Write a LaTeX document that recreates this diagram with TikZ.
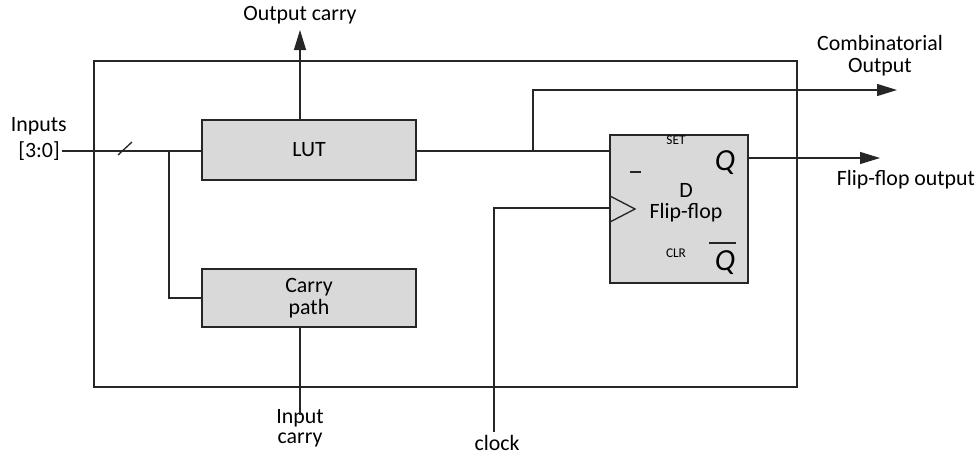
\documentclass[tikz,border=0pt]{standalone}
\usepackage{fontspec}
\setmainfont{Carlito}
\usetikzlibrary{arrows.meta,calc}
\definecolor{boxfill}{HTML}{D9D9D9}
\definecolor{wire}{HTML}{262626}
\tikzset{
  blk/.style={draw=wire, fill=boxfill, line width=1pt, inner sep=0pt},
  wireline/.style={draw=wire, line width=1pt},
  outarrow/.style={wireline, -{Triangle[length=15pt,width=9pt]}},
  lbl/.style={inner sep=0pt, font=\fontsize{16.4}{16.5}\selectfont},
  tiny/.style={inner sep=0pt, font=\fontsize{10}{11}\selectfont},
  bigq/.style={inner sep=0pt, font=\fontsize{23}{24}\selectfont\itshape},
}
\begin{document}
\begin{tikzpicture}[x=0.75pt,y=-0.75pt]
\useasboundingbox (0,0) rectangle (979,457);
% enclosing cell
\node[draw=wire, line width=1pt, minimum width=527.25pt, minimum height=244.5pt, inner sep=0pt] (cell) at (445.5,224) {};
% blocks
\node[blk, minimum width=160.5pt, minimum height=45pt, lbl] (lut) at (309,150) {LUT};
\node[blk, minimum width=160.5pt, minimum height=43.5pt, lbl, align=center] (carry) at (309,298) {Carry\\path};
\node[blk, minimum width=103.5pt, minimum height=111pt] (ff) at (679,209) {};
% flip-flop markings
\node[tiny] (set) at (676,140) {SET};
\node[tiny] (clr) at (676,253) {CLR};
\node[bigq] (q) at (725,163) {Q};
\node[bigq] (qn) at (725,263) {Q};
\draw[wire, line width=1pt] (709,243) -- (736,243);
\draw[wire, line width=1.6pt] (630,172) -- (641,172);
\node[lbl] (d) at (686,190) {D};
\node[lbl] (fft) at (686,213) {Flip-flop};
\draw[wireline] (610,196) -- (635,209) -- (610,222);
% text labels
\node[lbl] (toc) at (300,15) {Output carry};
\node[lbl, align=center] (tco) at (880,56) {Combinatorial\\Output};
\node[lbl] (tffo) at (906,180) {Flip-flop output};
\node[lbl, anchor=east] (tin1) at (67,126) {Inputs};
\node[lbl, anchor=east] (tin2) at (60,151) {[3:0]};
\node[lbl] (tic1) at (300,418) {Input};
\node[lbl] (tic2) at (300,440) {carry};
\node[lbl] (tclk) at (497,443) {clock};
% connector end points
\coordinate (inA) at (62,151);
\coordinate (split) at (169,151);
\coordinate (oc) at (300,30);
\coordinate (tap) at (533,151);
\coordinate (combo) at (897,90);
\coordinate (qo) at (880,158);
\coordinate (clkA) at (494,432);
\coordinate (clkB) at (494,208);
\coordinate (ci) at (300,415);
% wiring
\draw[wireline] (inA) -- (lut.west |- inA);
\draw[wireline] (118,155) -- (132,142);
\draw[wireline] (split) |- (carry.west);
\draw[outarrow] (lut.north -| oc) -- (oc);
\draw[wireline] (lut.east |- tap) -- (ff.west |- tap);
\draw[outarrow] (tap) |- (combo);
\draw[outarrow] (ff.east |- qo) -- (qo);
\draw[wireline] (clkA) -- (clkB) -- (ff.west |- clkB);
\draw[wireline] (ci) -- (carry.south -| ci);
\end{tikzpicture}
\end{document}
